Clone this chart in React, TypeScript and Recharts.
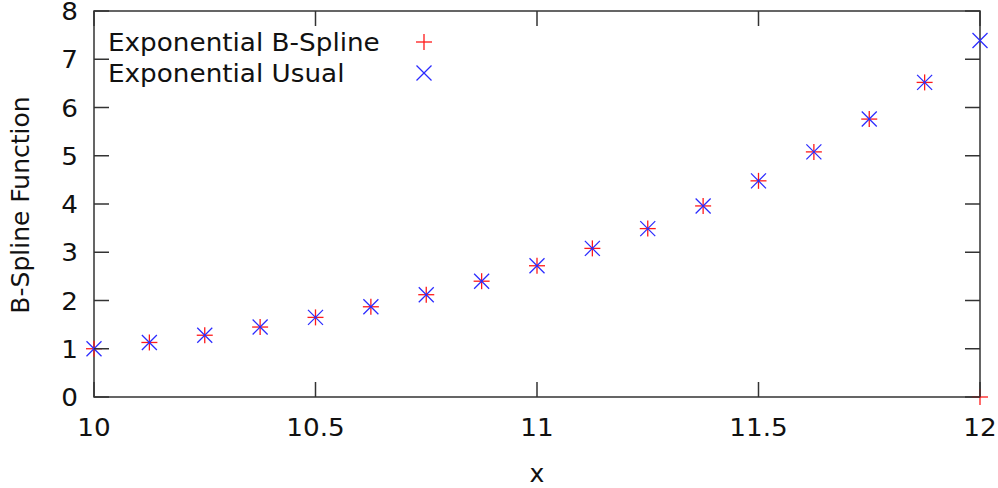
import React from 'react';
import { ScatterChart, Scatter, XAxis, YAxis, ReferenceArea } from 'recharts';

const xValues = [10, 10.125, 10.25, 10.375, 10.5, 10.625, 10.75, 10.875, 11, 11.125, 11.25, 11.375, 11.5, 11.625, 11.75, 11.875, 12];
const bsplineValues = [1.0, 1.13, 1.28, 1.45, 1.65, 1.87, 2.12, 2.4, 2.72, 3.08, 3.49, 3.96, 4.48, 5.08, 5.76, 6.52, 0.0];
const usualValues = [1.0, 1.13, 1.28, 1.45, 1.65, 1.87, 2.12, 2.4, 2.72, 3.08, 3.49, 3.96, 4.48, 5.08, 5.76, 6.52, 7.39];
const xTicks = [10, 10.5, 11, 11.5, 12];
const yTicks = [0, 1, 2, 3, 4, 5, 6, 7, 8];
const seriesNames = ['Exponential B-Spline', 'Exponential Usual'];

const bsplineData = xValues.map((x, i) => ({ x, y: bsplineValues[i] }));
const usualData = xValues.map((x, i) => ({ x, y: usualValues[i] }));

const RED = '#ff1a1a';
const BLUE = '#2a2aff';
const AXIS = '#333333';
const FONT = '"DejaVu Sans", Verdana, sans-serif';

const W = 998;
const H = 488;
const MARGIN = { top: 11, right: 18, bottom: 31, left: 14 };
const Y_AXIS_W = 80;
const X_AXIS_H = 60;
const PLOT_LEFT = MARGIN.left + Y_AXIS_W;
const PLOT_RIGHT = W - MARGIN.right;
const PLOT_TOP = MARGIN.top;
const PLOT_BOTTOM = H - MARGIN.bottom - X_AXIS_H;
const TICK_LEN = 15;
const STRETCH = 1.05;

const PlusMark = (props: any) => {
  const { cx, cy } = props;
  if (cx == null || cy == null) return null;
  const s = 8;
  return (
    <g stroke={RED} strokeWidth={1.3}>
      <line x1={cx - s} y1={cy} x2={cx + s} y2={cy} />
      <line x1={cx} y1={cy - s} x2={cx} y2={cy + s} />
    </g>
  );
};

const CrossMark = (props: any) => {
  const { cx, cy } = props;
  if (cx == null || cy == null) return null;
  const s = 7.5;
  return (
    <g stroke={BLUE} strokeWidth={1.3}>
      <line x1={cx - s} y1={cy - s} x2={cx + s} y2={cy + s} />
      <line x1={cx - s} y1={cy + s} x2={cx + s} y2={cy - s} />
    </g>
  );
};

const XTick = (props: any) => {
  const { x, payload } = props;
  return (
    <g>
      <line x1={x} y1={PLOT_BOTTOM} x2={x} y2={PLOT_BOTTOM - TICK_LEN} stroke={AXIS} strokeWidth={1.5} />
      <line x1={x} y1={PLOT_TOP} x2={x} y2={PLOT_TOP + TICK_LEN} stroke={AXIS} strokeWidth={1.5} />
      <text
        transform={`translate(${x},${PLOT_BOTTOM + 39}) scale(${STRETCH},1)`}
        textAnchor="middle"
        fontSize={25}
        fontFamily={FONT}
        fill="#111"
      >
        {payload.value}
      </text>
    </g>
  );
};

const YTick = (props: any) => {
  const { y, payload } = props;
  return (
    <g>
      <line x1={PLOT_LEFT} y1={y} x2={PLOT_LEFT + TICK_LEN} y2={y} stroke={AXIS} strokeWidth={1.5} />
      <line x1={PLOT_RIGHT} y1={y} x2={PLOT_RIGHT - TICK_LEN} y2={y} stroke={AXIS} strokeWidth={1.5} />
      <text
        transform={`translate(${PLOT_LEFT - 16},${y + 9}) scale(${STRETCH},1)`}
        textAnchor="end"
        fontSize={25}
        fontFamily={FONT}
        fill="#111"
      >
        {payload.value}
      </text>
    </g>
  );
};

export default function App() {
  return (
    <div style={{ position: 'absolute', left: 0, top: 0, width: W, height: H, background: '#fff', fontFamily: FONT }}>
      <ScatterChart width={W} height={H} margin={MARGIN}>
        <XAxis
          xAxisId="b"
          type="number"
          dataKey="x"
          domain={[10, 12]}
          ticks={xTicks}
          orientation="bottom"
          height={X_AXIS_H}
          tickLine={false}
          axisLine={false}
          tick={<XTick />}
          interval={0}
        />
        <YAxis
          yAxisId="l"
          type="number"
          dataKey="y"
          domain={[0, 8]}
          ticks={yTicks}
          orientation="left"
          width={Y_AXIS_W}
          tickLine={false}
          axisLine={false}
          tick={<YTick />}
          interval={0}
        />
        <ReferenceArea
          xAxisId="b"
          yAxisId="l"
          x1={10}
          x2={12}
          y1={0}
          y2={8}
          fill="none"
          fillOpacity={0}
          stroke={AXIS}
          strokeWidth={1.5}
          ifOverflow="visible"
        />
        <Scatter name={seriesNames[0]} data={bsplineData} xAxisId="b" yAxisId="l" shape={<PlusMark />} isAnimationActive={false} />
        <Scatter name={seriesNames[1]} data={usualData} xAxisId="b" yAxisId="l" shape={<CrossMark />} isAnimationActive={false} />
      </ScatterChart>

      <div style={{ position: 'absolute', left: 108, top: 27, fontSize: 25, lineHeight: '31px', color: '#111', whiteSpace: 'nowrap', transform: `scale(${STRETCH},1)`, transformOrigin: '0 0' }}>
        {seriesNames.map((n) => (
          <div key={n} style={{ height: 31 }}>{n}</div>
        ))}
      </div>
      <svg style={{ position: 'absolute', left: 0, top: 0, pointerEvents: 'none' }} width={W} height={H}>
        <PlusMark cx={424} cy={42} />
        <CrossMark cx={424} cy={73} />
      </svg>

      <div style={{ position: 'absolute', left: 20, top: 205, transform: 'translate(-50%, -50%) rotate(-90deg)', fontSize: 25, color: '#111', whiteSpace: 'nowrap' }}>
        B-Spline Function
      </div>
      <div style={{ position: 'absolute', left: 537, top: 473, transform: 'translate(-50%, -50%)', fontSize: 25, color: '#111' }}>
        x
      </div>
    </div>
  );
}
